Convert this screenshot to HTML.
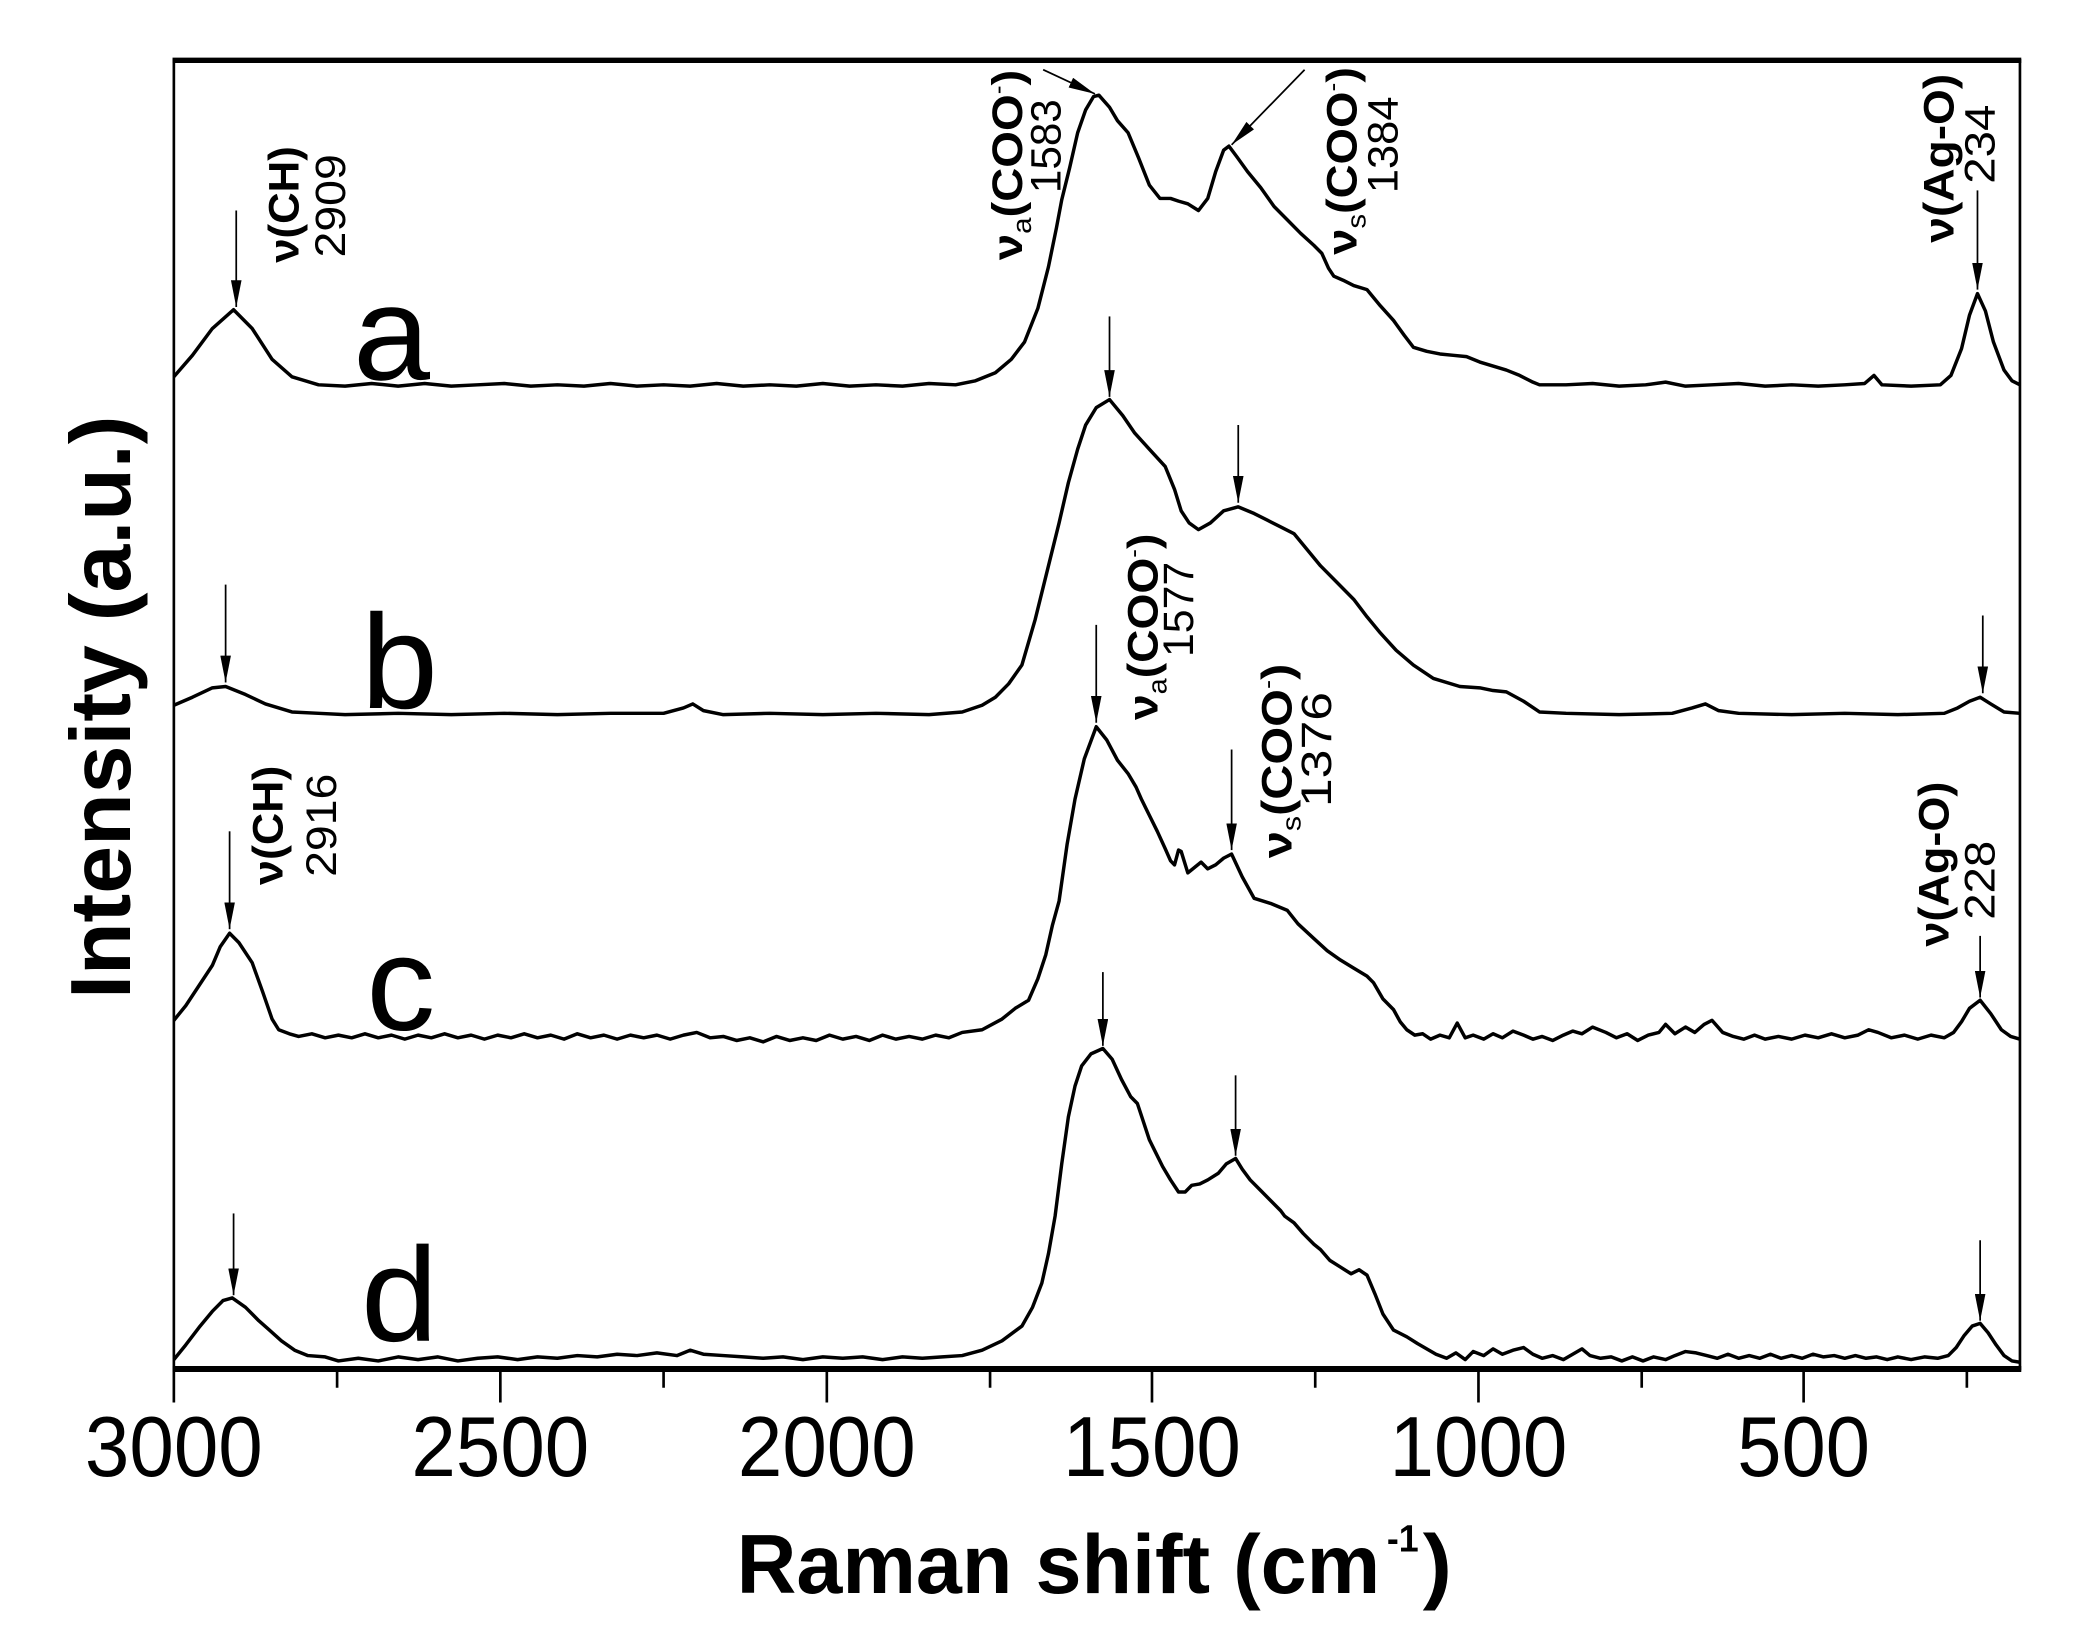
<!DOCTYPE html>
<html><head><meta charset="utf-8"><style>
html,body{margin:0;padding:0;background:#fff;}
svg{display:block;}
text{font-family:"Liberation Sans",sans-serif;fill:#000;}
</style></head><body>
<svg width="2081" height="1635" viewBox="0 0 1568 1219.4" preserveAspectRatio="none" xmlns="http://www.w3.org/2000/svg">
<defs>
<marker id="ah" markerWidth="20" markerHeight="8" refX="20" refY="4" orient="auto" markerUnits="userSpaceOnUse" viewBox="0 0 20 8">
<path d="M0,0 L20,4 L0,8 Z" fill="#000"/></marker>
</defs>
<g fill="none" stroke="#000" stroke-linejoin="round" stroke-width="2.6">
<!-- curve a -->
<polyline points="131,281 145,265 160,245 176,231 190,245 205,268 220,281 240,287 260,288 280,286 300,288 320,286 340,288 360,287 380,286 400,288 420,287 440,288 460,286 480,288 500,287 520,288 540,286 560,288 580,287 600,288 620,286 640,288 660,287 680,288 700,286 720,287 735,284 750,278 762,268 772,255 782,230 790,199 796,170 800,149 806,125 812,99 818,82 824,72 828,71 836,80 842,90 850,99 858,118 866,138 874,148 882,148 888,150 895,152 903,157 910,148 916,128 922,112 926,109 932,117 940,128 950,140 960,154 970,164 980,174 990,183 996,189 1001,200 1005,206 1012,209 1020,213 1030,216 1040,228 1050,239 1058,250 1065,259 1075,262 1085,264 1095,265 1105,266 1115,270 1125,273 1135,276 1145,280 1155,285 1160,287 1180,287 1200,286 1220,288 1240,287 1255,285 1270,288 1290,287 1310,286 1330,288 1350,287 1370,288 1390,287 1405,286 1412,280 1418,287 1440,288 1462,287 1470,280 1478,260 1484,235 1490,219 1496,232 1502,255 1510,276 1516,284 1522,287"/>
<!-- curve b -->
<polyline points="131,526 145,520 160,513 170,512 185,518 200,525 220,531 240,532 260,533 300,532 340,533 380,532 420,533 460,532 500,532 515,528 522,525 530,530 545,533 580,532 620,533 660,532 700,533 725,531 740,526 750,520 760,510 770,496 780,462 790,422 798,390 805,360 812,335 818,317 826,304 836,298 846,310 855,323 866,335 878,348 885,365 890,381 896,390 903,395 912,390 922,381 933,378 945,383 955,388 965,393 975,398 985,410 995,422 1008,435 1020,447 1030,460 1040,472 1052,485 1065,496 1080,506 1100,512 1115,513 1125,515 1135,516 1148,523 1160,531 1180,532 1220,533 1260,532 1275,528 1285,525 1295,530 1310,532 1350,533 1390,532 1430,533 1465,532 1475,528 1484,523 1492,520 1500,525 1510,531 1522,532"/>
<!-- curve c -->
<polyline points="131,761 140,750 150,735 160,720 166,706 173,696 180,703 190,718 198,740 205,760 210,768 218,771 225,773 235,771 245,774 255,772 265,774 275,771 285,774 295,772 305,775 315,772 325,774 335,771 345,774 355,772 365,775 375,772 385,774 395,771 405,774 415,772 425,775 435,771 445,774 455,772 465,775 475,772 485,774 495,772 505,775 515,772 525,770 535,774 545,773 555,776 565,774 575,777 585,773 595,776 605,774 615,776 625,772 635,775 645,773 655,776 665,772 675,775 685,773 695,775 705,772 715,774 725,770 740,768 755,760 765,752 775,746 782,730 788,712 793,690 798,672 804,630 810,596 817,566 826,542 834,552 842,567 850,577 856,587 860,596 866,608 872,620 878,633 882,642 885,645 888,634 890,635 895,651 900,647 905,643 910,648 916,645 922,640 928,637 936,654 945,670 958,674 970,679 978,689 990,700 1000,709 1010,716 1020,722 1030,728 1035,733 1042,745 1050,753 1055,762 1060,768 1066,772 1072,771 1078,775 1085,772 1092,774 1098,763 1104,774 1110,772 1118,775 1125,771 1132,774 1140,769 1148,772 1155,775 1162,773 1170,776 1178,772 1185,769 1192,771 1200,766 1210,770 1218,774 1226,771 1234,776 1242,772 1250,770 1255,764 1262,771 1270,766 1277,770 1284,764 1290,761 1298,770 1306,773 1314,775 1322,772 1330,775 1340,773 1350,775 1360,772 1370,774 1380,771 1390,774 1400,772 1408,768 1415,770 1425,774 1435,772 1445,775 1455,772 1465,774 1472,770 1478,762 1484,752 1492,746 1500,756 1508,768 1515,773 1522,775"/>
<!-- curve d -->
<polyline points="131,1014 140,1003 150,990 160,978 168,970 175,968 185,975 195,985 203,992 212,1000 222,1007 232,1011 245,1012 255,1015 270,1013 285,1015 300,1012 315,1014 330,1012 345,1015 360,1013 375,1012 390,1014 405,1012 420,1013 435,1011 450,1012 465,1010 480,1011 495,1009 510,1011 520,1007 530,1010 545,1011 560,1012 575,1013 590,1012 605,1014 620,1012 635,1013 650,1012 665,1014 680,1012 695,1013 710,1012 725,1011 740,1007 755,1000 770,989 778,975 785,957 790,935 795,907 800,868 805,833 810,810 815,795 822,786 831,782 838,790 845,805 852,818 857,823 862,838 866,850 870,858 876,870 882,880 888,889 893,889 898,884 904,883 910,880 918,875 924,868 931,864 936,872 942,880 950,888 958,896 965,903 968,907 975,912 982,920 990,928 995,932 1002,940 1010,945 1018,950 1024,947 1030,951 1036,965 1042,980 1050,992 1060,997 1068,1002 1075,1006 1082,1010 1090,1013 1097,1009 1104,1014 1110,1008 1118,1011 1125,1006 1132,1010 1140,1007 1148,1005 1155,1010 1162,1013 1170,1011 1178,1014 1185,1010 1192,1006 1198,1011 1206,1013 1214,1012 1222,1015 1230,1012 1238,1015 1246,1012 1255,1014 1262,1011 1270,1008 1278,1009 1286,1011 1294,1013 1302,1010 1310,1013 1318,1011 1326,1013 1334,1010 1342,1013 1350,1011 1358,1013 1366,1010 1374,1012 1382,1011 1390,1013 1398,1011 1406,1013 1414,1012 1422,1014 1430,1012 1440,1014 1450,1012 1460,1013 1468,1011 1474,1005 1480,996 1486,989 1492,987 1498,994 1504,1003 1510,1011 1516,1015 1522,1016"/>
</g>
<!-- frame -->
<g stroke="#000" fill="none">
<line x1="130" y1="45" x2="1523" y2="45" stroke-width="4"/>
<line x1="130" y1="1021" x2="1523" y2="1021" stroke-width="4.5"/>
<line x1="131" y1="44" x2="131" y2="1022" stroke-width="2"/>
<line x1="1522" y1="44" x2="1522" y2="1022" stroke-width="2"/>
<g stroke-width="2">
<line x1="131" y1="1022" x2="131" y2="1046"/>
<line x1="254" y1="1022" x2="254" y2="1035"/>
<line x1="377" y1="1022" x2="377" y2="1046"/>
<line x1="500" y1="1022" x2="500" y2="1035"/>
<line x1="623" y1="1022" x2="623" y2="1046"/>
<line x1="746" y1="1022" x2="746" y2="1035"/>
<line x1="868" y1="1022" x2="868" y2="1046"/>
<line x1="991" y1="1022" x2="991" y2="1035"/>
<line x1="1114" y1="1022" x2="1114" y2="1046"/>
<line x1="1237" y1="1022" x2="1237" y2="1035"/>
<line x1="1359" y1="1022" x2="1359" y2="1046"/>
<line x1="1482" y1="1022" x2="1482" y2="1035"/>
</g>
</g>
<!-- tick labels -->
<g font-size="64" text-anchor="middle">
<text x="131" y="1101" textLength="134" lengthAdjust="spacingAndGlyphs">3000</text>
<text x="377" y="1101" textLength="134" lengthAdjust="spacingAndGlyphs">2500</text>
<text x="623" y="1101" textLength="134" lengthAdjust="spacingAndGlyphs">2000</text>
<text x="868" y="1101" textLength="134" lengthAdjust="spacingAndGlyphs">1500</text>
<text x="1114" y="1101" textLength="134" lengthAdjust="spacingAndGlyphs">1000</text>
<text x="1359" y="1101" textLength="100" lengthAdjust="spacingAndGlyphs">500</text>
</g>
<!-- axis titles -->
<text x="555" y="1188" font-size="62" font-weight="bold" textLength="485" lengthAdjust="spacingAndGlyphs">Raman shift (cm</text>
<text x="1045" y="1157" font-size="28" font-weight="bold" textLength="24" lengthAdjust="spacingAndGlyphs">-1</text>
<text x="1072" y="1188" font-size="62" font-weight="bold" textLength="22" lengthAdjust="spacingAndGlyphs">)</text>
<text transform="translate(98,745) rotate(-90)" font-size="64" font-weight="bold" textLength="435" lengthAdjust="spacingAndGlyphs">Intensity (a.u.)</text>
<!-- curve letters -->
<g font-size="100">
<text x="266" y="283" textLength="58" lengthAdjust="spacingAndGlyphs">a</text>
<text x="272" y="528" textLength="58" lengthAdjust="spacingAndGlyphs">b</text>
<text x="276" y="768" textLength="52" lengthAdjust="spacingAndGlyphs">c</text>
<text x="272" y="1000" textLength="58" lengthAdjust="spacingAndGlyphs">d</text>
</g>
<!-- arrows -->
<g stroke="#000" stroke-width="1.3" fill="none" marker-end="url(#ah)">
<line x1="178" y1="157" x2="178" y2="229"/>
<line x1="1490" y1="142" x2="1490" y2="216"/>
<line x1="786" y1="52" x2="825" y2="70"/>
<line x1="983" y1="52" x2="928" y2="108"/>
<line x1="836" y1="236" x2="836" y2="296"/>
<line x1="933" y1="317" x2="933" y2="375"/>
<line x1="170" y1="436" x2="170" y2="509"/>
<line x1="1494" y1="459" x2="1494" y2="517"/>
<line x1="826" y1="466" x2="826" y2="539"/>
<line x1="928" y1="559" x2="928" y2="634"/>
<line x1="173" y1="620" x2="173" y2="693"/>
<line x1="1492" y1="698" x2="1492" y2="744"/>
<line x1="831" y1="725" x2="831" y2="780"/>
<line x1="931" y1="802" x2="931" y2="862"/>
<line x1="176" y1="905" x2="176" y2="966"/>
<line x1="1492" y1="925" x2="1492" y2="985"/>
</g>
<!-- annotations (rotated) -->
<g font-size="32">
<text transform="translate(225,196) rotate(-90)" font-weight="bold" textLength="87" lengthAdjust="spacingAndGlyphs">ν(CH)</text>
<text transform="translate(260,192) rotate(-90)" textLength="77" lengthAdjust="spacingAndGlyphs">2909</text>

<text transform="translate(770,194) rotate(-90)" textLength="142" lengthAdjust="spacingAndGlyphs"><tspan font-weight="bold">ν</tspan><tspan font-size="20" dy="7">a</tspan><tspan font-weight="bold" dy="-7">(COO</tspan><tspan font-size="18" dy="-12">-</tspan><tspan font-weight="bold" dy="12">)</tspan></text>
<text transform="translate(799,144) rotate(-90)" textLength="70" lengthAdjust="spacingAndGlyphs">1583</text>

<text transform="translate(1022,190) rotate(-90)" textLength="140" lengthAdjust="spacingAndGlyphs"><tspan font-weight="bold">ν</tspan><tspan font-size="20" dy="7">s</tspan><tspan font-weight="bold" dy="-7">(COO</tspan><tspan font-size="18" dy="-12">-</tspan><tspan font-weight="bold" dy="12">)</tspan></text>
<text transform="translate(1053,144) rotate(-90)" textLength="72" lengthAdjust="spacingAndGlyphs">1384</text>

<text transform="translate(1472,181) rotate(-90)" font-weight="bold" textLength="126" lengthAdjust="spacingAndGlyphs">ν(Ag-O)</text>
<text transform="translate(1503,137) rotate(-90)" textLength="59" lengthAdjust="spacingAndGlyphs">234</text>

<text transform="translate(872,537) rotate(-90)" textLength="139" lengthAdjust="spacingAndGlyphs"><tspan font-weight="bold">ν</tspan><tspan font-size="20" dy="7">a</tspan><tspan font-weight="bold" dy="-7">(COO</tspan><tspan font-size="18" dy="-12">-</tspan><tspan font-weight="bold" dy="12">)</tspan></text>
<text transform="translate(899,490) rotate(-90)" textLength="71" lengthAdjust="spacingAndGlyphs">1577</text>

<text transform="translate(973,640) rotate(-90)" textLength="145" lengthAdjust="spacingAndGlyphs"><tspan font-weight="bold">ν</tspan><tspan font-size="20" dy="7">s</tspan><tspan font-weight="bold" dy="-7">(COO</tspan><tspan font-size="18" dy="-12">-</tspan><tspan font-weight="bold" dy="12">)</tspan></text>
<text transform="translate(1003,602) rotate(-90)" textLength="86" lengthAdjust="spacingAndGlyphs">1376</text>

<text transform="translate(213,660) rotate(-90)" font-weight="bold" textLength="89" lengthAdjust="spacingAndGlyphs">ν(CH)</text>
<text transform="translate(253,654) rotate(-90)" textLength="77" lengthAdjust="spacingAndGlyphs">2916</text>

<text transform="translate(1468,706) rotate(-90)" font-weight="bold" textLength="123" lengthAdjust="spacingAndGlyphs">ν(Ag-O)</text>
<text transform="translate(1503,686) rotate(-90)" textLength="59" lengthAdjust="spacingAndGlyphs">228</text>
</g>
</svg>
</body></html>
